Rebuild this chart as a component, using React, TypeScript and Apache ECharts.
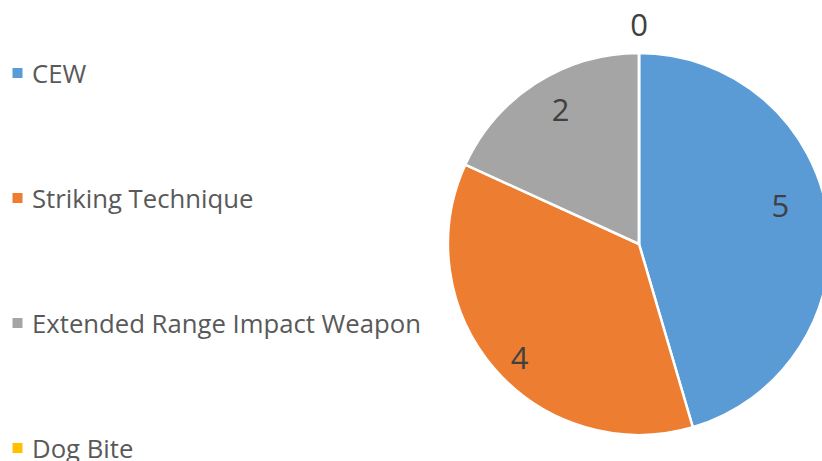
import React, { useEffect, useRef } from "react";
import * as echarts from "echarts";

const categories = ["CEW", "Striking Technique", "Extended Range Impact Weapon", "Dog Bite"];
const values = [5, 4, 2, 0];
const colors = ["#5B9BD5", "#ED7D31", "#A5A5A5", "#FFC000"];

const FONT = "'Open Sans', 'Noto Sans', sans-serif";

export default function App() {
  const ref = useRef<HTMLDivElement>(null);
  useEffect(() => {
    if (!ref.current) return;
    const chart = echarts.init(ref.current, null, { renderer: "svg" });
    const center = [639, 244];
    const R = 191;
    const mainData = categories.map((name, i) => ({
      name,
      value: values[i],
      itemStyle: { color: colors[i] },
    }));
    const labelPads: number[][] = [
      [0, 30, 34, 0],
      [20, 0, 0, 0],
      [0, 0, 4, 14],
      [0, 0, 0, 0],
    ];
    const innerLabelData = categories.map((name, i) => ({
      name,
      value: values[i],
      label: {
        show: i !== 3,
        formatter: "{v|{c}}",
        rich: {
          v: {
            fontFamily: FONT,
            fontSize: 31,
            color: "#404040",
            padding: labelPads[i],
          },
        },
      },
    }));
    const outerLabelData = categories.map((name, i) => ({
      name,
      value: values[i],
      label: { show: i === 3 },
    }));
    const labelStyle = {
      position: "inside",
      formatter: "{c}",
      fontFamily: FONT,
      fontSize: 31,
      color: "#404040",
      textBorderWidth: 0,
    };
    chart.setOption({
      animation: false,
      color: colors,
      legend: {
        orient: "vertical",
        left: 10.5,
        top: 60,
        height: 440,
        padding: 0,
        itemWidth: 19,
        itemHeight: 12,
        itemGap: 99,
        icon: "path://M0,0H12V12H0Z",
        data: categories,
        textStyle: {
          fontFamily: FONT,
          fontSize: 25.7,
          color: "#595959",
          lineHeight: 14,
        },
        selectedMode: false,
      },
      series: [
        {
          type: "pie",
          center,
          radius: [0, R],
          startAngle: 90,
          clockwise: true,
          data: mainData,
          label: { show: false },
          labelLine: { show: false },
          itemStyle: { borderColor: "#ffffff", borderWidth: 2.5 },
          emphasis: { disabled: true },
        },
        {
          type: "pie",
          center,
          radius: [119, R],
          startAngle: 90,
          clockwise: true,
          silent: true,
          data: innerLabelData,
          itemStyle: { color: "rgba(0,0,0,0)" },
          label: labelStyle,
          labelLine: { show: false },
          emphasis: { disabled: true },
        },
        {
          type: "pie",
          center,
          radius: [199, 235],
          startAngle: 90,
          clockwise: true,
          silent: true,
          data: outerLabelData,
          itemStyle: { color: "rgba(0,0,0,0)" },
          label: labelStyle,
          labelLine: { show: false },
          emphasis: { disabled: true },
        },
      ],
    });
    return () => chart.dispose();
  }, []);
  return (
    <div
      ref={ref}
      style={{ position: "fixed", left: 0, top: 0, width: 822, height: 461, background: "#ffffff" }}
    />
  );
}
